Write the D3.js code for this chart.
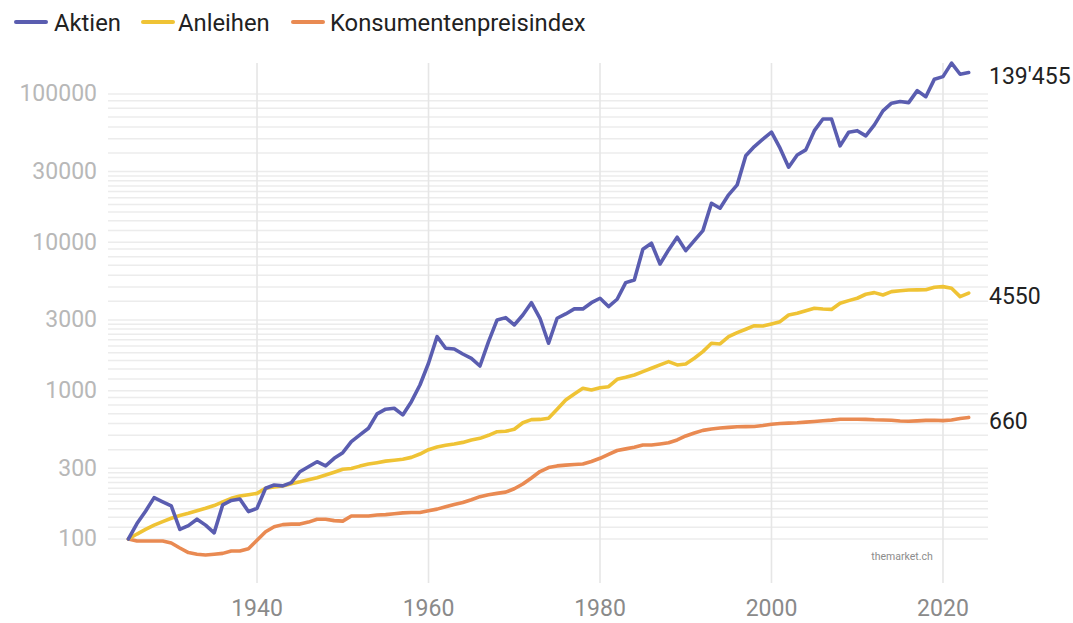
<!DOCTYPE html>
<html>
<head>
<meta charset="utf-8">
<script src="https://cdn.jsdelivr.net/npm/d3@7"></script>
<style>
  html, body { margin: 0; padding: 0; background: #fff; }
  svg { display: block; font-family: Roboto, "Noto Sans", sans-serif; }
</style>
</head>
<body>
<div id="chart"></div>
<script>
// Indexed performance since 1925 (start = 100), log scale
const firstYear = 1925;

const aktien = [
  100, 127, 154, 190, 178, 167, 116, 123, 136, 124,
  110, 170, 182, 186, 153, 161, 220, 231, 228, 240,
  284, 307, 332, 311, 350, 382, 453, 503, 558, 697,
  750, 761, 686, 843, 1092, 1531, 2312, 1932, 1911, 1767,
  1652, 1467, 2140, 2998, 3107, 2773, 3237, 3918, 3077, 2088,
  3077, 3290, 3557, 3557, 3918, 4198, 3689, 4133, 5349, 5580,
  8985, 9862, 7146, 8890, 10822, 8790, 10260, 11990, 18350, 16990,
  20900, 24400, 38300, 44200, 49600, 55250, 43100, 32100, 38800, 42000,
  56600, 67900, 67900, 44700, 55250, 56600, 52200, 61900, 76900, 86700,
  88900, 87500, 105400, 95900, 125900, 131000, 161500, 135900, 139455
];

const anleihen = [
  100, 108, 116, 124, 131, 138, 144, 149, 155, 161,
  168, 178, 188, 195, 199, 203, 220, 224, 228, 236,
  243, 251, 259, 270, 282, 295, 299, 310, 320, 327,
  335, 340, 345, 355, 374, 400, 417, 428, 437, 448,
  465, 477, 500, 529, 532, 549, 608, 638, 640, 651,
  749, 865, 950, 1038, 1011, 1047, 1064, 1193, 1231, 1276,
  1343, 1416, 1491, 1569, 1491, 1514, 1653, 1833, 2088, 2065,
  2312, 2461, 2594, 2742, 2729, 2818, 2918, 3237, 3323, 3462,
  3595, 3557, 3530, 3882, 4045, 4198, 4467, 4580, 4417, 4653,
  4721, 4774, 4780, 4790, 4980, 5027, 4900, 4305, 4550
];

const kpi = [
  100, 97, 97, 97, 97, 94, 87, 81, 79, 78,
  79, 80, 83, 83, 86, 98, 112, 121, 125, 126,
  126, 130, 136, 136, 133, 132, 143, 143, 143, 145,
  146, 148, 150, 151, 151, 155, 159, 165, 171, 176,
  184, 193, 199, 203, 207, 218, 235, 258, 285, 303,
  311, 315, 318, 320, 333, 350, 372, 395, 405, 416,
  430, 430, 437, 445, 465, 495, 518, 540, 552, 560,
  566, 571, 572, 574, 583, 594, 600, 604, 608, 614,
  620, 627, 633, 641, 641, 642, 640, 636, 634, 632,
  625, 622, 626, 631, 632, 628, 635, 650, 660
];

const seriesNames = ["Aktien", "Anleihen", "Konsumentenpreisindex"];
const seriesColors = ["#5a5db0", "#efc335", "#e98a52"];
const endLabels = ["139'455", "4550", "660"];

const yTickValues = [100, 300, 1000, 3000, 10000, 30000, 100000];
const xTickValues = [1940, 1960, 1980, 2000, 2020];

const width = 1073;
const height = 623;

const svg = d3.select("#chart")
  .append("svg")
  .attr("width", width)
  .attr("height", height);

const x = d3.scaleLinear()
  .domain([1925, 2023])
  .range([128.4, 968.7]);

const y = d3.scaleLog()
  .domain([100, 100000])
  .range([539, 94]);

// minor gridlines: 1.2..2.8 (step .2) and 4..9 per decade, plus 1 and 3
const gridValues = [];
[100, 1000, 10000].forEach(dec => {
  [1, 1.2, 1.4, 1.6, 1.8, 2, 2.2, 2.4, 2.6, 2.8, 3, 4, 5, 6, 7, 8, 9]
    .forEach(m => gridValues.push(Math.round(m * dec)));
});
gridValues.push(100000);

svg.append("g")
  .selectAll("line")
  .data(gridValues)
  .join("line")
  .attr("x1", 108)
  .attr("x2", 988)
  .attr("y1", d => y(d))
  .attr("y2", d => y(d))
  .attr("stroke", "#ececec")
  .attr("stroke-width", 1.5);

// vertical gridlines
svg.append("g")
  .selectAll("line")
  .data(xTickValues)
  .join("line")
  .attr("x1", d => x(d))
  .attr("x2", d => x(d))
  .attr("y1", 63)
  .attr("y2", 583)
  .attr("stroke", "#e6e6e6")
  .attr("stroke-width", 1.6);

// y labels
svg.append("g")
  .selectAll("text")
  .data(yTickValues)
  .join("text")
  .attr("x", 97)
  .attr("y", d => y(d) - 1)
  .attr("dy", "0.36em")
  .attr("text-anchor", "end")
  .attr("fill", "#b8b8b8")
  .style("font-size", "23px")
  .text(d => d);

// x labels
svg.append("g")
  .selectAll("text")
  .data(xTickValues)
  .join("text")
  .attr("x", d => x(d))
  .attr("y", 616)
  .attr("text-anchor", "middle")
  .attr("fill", "#8a8a8a")
  .style("font-size", "23px")
  .text(d => d);

// watermark
svg.append("text")
  .attr("x", 902)
  .attr("y", 560)
  .attr("text-anchor", "middle")
  .attr("fill", "#8c8c8c")
  .style("font-size", "10.5px")
  .text("themarket.ch");

// lines
const allSeries = [aktien, anleihen, kpi];
const line = d3.line()
  .x((d, i) => x(firstYear + i))
  .y(d => y(d));

// draw CPI first, stocks on top
[2, 1, 0].forEach(k => {
  svg.append("path")
    .datum(allSeries[k])
    .attr("d", line)
    .attr("fill", "none")
    .attr("stroke", seriesColors[k])
    .attr("stroke-width", 3.6)
    .attr("stroke-linejoin", "round")
    .attr("stroke-linecap", "round");
});

// end labels
svg.append("g")
  .selectAll("text")
  .data(allSeries)
  .join("text")
  .attr("x", 989)
  .attr("y", (d, i) => y(d[d.length - 1]) + 3)
  .attr("dy", "0.36em")
  .attr("fill", "#222")
  .style("font-size", "23px")
  .text((d, i) => endLabels[i]);

// legend
const legendX = [15, 142, 292];
const legend = svg.append("g")
  .selectAll("g")
  .data(seriesNames)
  .join("g")
  .attr("transform", (d, i) => `translate(${legendX[i]}, 22)`);

legend.append("line")
  .attr("x1", 1)
  .attr("x2", 31)
  .attr("stroke", (d, i) => seriesColors[i])
  .attr("stroke-width", 4)
  .attr("stroke-linecap", "round");

legend.append("text")
  .attr("x", (d, i) => [39, 36, 38][i])
  .attr("dy", "0.36em")
  .attr("fill", "#222")
  .style("font-size", "23.8px")
  .text(d => d);
</script>
</body>
</html>
